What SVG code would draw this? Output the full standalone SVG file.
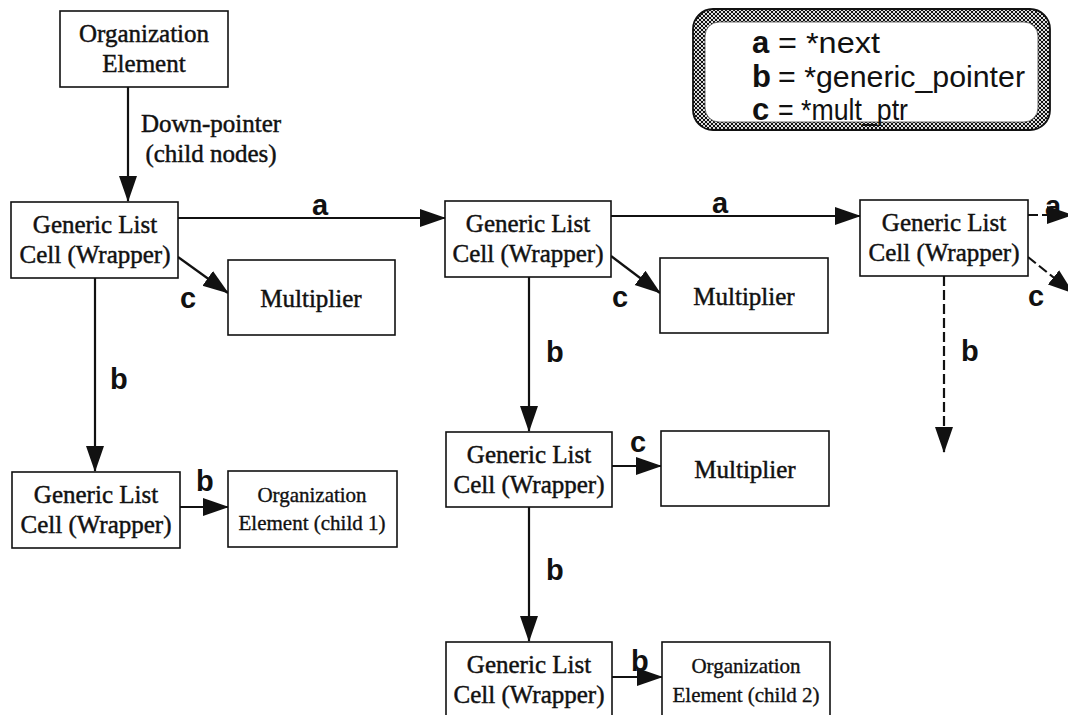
<svg xmlns="http://www.w3.org/2000/svg" width="1068" height="715" viewBox="0 0 1068 715">
  <style>
    .box { fill: #fff; stroke: #111; stroke-width: 1.6; }
    .nt { font-family: "Liberation Serif", "Times New Roman", serif; font-size: 25px; fill: #111; stroke: #111; stroke-width: 0.45; text-anchor: middle; }
    .ns { font-family: "Liberation Serif", "Times New Roman", serif; font-size: 21px; fill: #111; stroke: #111; stroke-width: 0.35; text-anchor: middle; }
    .lbl { font-family: "Liberation Sans", Arial, sans-serif; font-size: 29px; font-weight: bold; fill: #111; }
    .key { font-family: "Liberation Sans", Arial, sans-serif; font-size: 30px; fill: #111; }
    .keyb { font-family: "Liberation Sans", Arial, sans-serif; font-size: 31px; font-weight: bold; fill: #111; }
    .ln { stroke: #111; stroke-width: 2.2; fill: none; marker-end: url(#arrow); }
    .dash { stroke-dasharray: 10 4; }
  </style>
  <defs>
    <marker id="arrow" markerUnits="userSpaceOnUse" markerWidth="26" markerHeight="20" viewBox="0 0 26 20" refX="25" refY="10" orient="auto">
      <path d="M0,1 L26,10 L0,19 z" fill="#111"/>
    </marker>
    <pattern id="hatch" width="4" height="4" patternUnits="userSpaceOnUse">
      <rect width="4" height="4" fill="#ddd"/>
      <path d="M0,0 L4,4 M4,0 L0,4" stroke="#111" stroke-width="1"/>
    </pattern>
  </defs>

  <!-- key panel -->
  <g id="legend">
    <rect x="693" y="9" width="357" height="121" rx="20" fill="url(#hatch)" stroke="#111" stroke-width="1.8"/>
    <rect x="705" y="22" width="333" height="100" rx="14" fill="#fff" stroke="#444" stroke-width="0.8"/>
    <text class="keyb" x="752" y="53">a</text>
    <text class="key" x="778" y="53" textLength="102" lengthAdjust="spacingAndGlyphs">= *next</text>
    <text class="keyb" x="752" y="87">b</text>
    <text class="key" x="778" y="87" textLength="247" lengthAdjust="spacingAndGlyphs">= *generic_pointer</text>
    <text class="keyb" x="752" y="120">c</text>
    <text class="key" x="778" y="120" textLength="130" lengthAdjust="spacingAndGlyphs">= *mult_ptr</text>
  </g>

  <!-- connectors -->
  <g id="connectors">
    <line class="ln" x1="128" y1="87" x2="128" y2="201"/>
    <line class="ln" x1="178" y1="218" x2="445" y2="218"/>
    <line class="ln" x1="611" y1="216" x2="860" y2="216"/>
    <line class="ln dash" x1="1028" y1="215" x2="1072" y2="215"/>
    <line class="ln" x1="178" y1="257" x2="228" y2="293"/>
    <line class="ln" x1="611" y1="256" x2="660" y2="293"/>
    <line class="ln dash" x1="1028" y1="257" x2="1073" y2="293"/>
    <line class="ln" x1="95" y1="278" x2="95" y2="471"/>
    <line class="ln" x1="529" y1="277" x2="529" y2="431"/>
    <line class="ln" x1="529" y1="507" x2="529" y2="641"/>
    <line class="ln dash" x1="944" y1="276" x2="944" y2="452"/>
    <line class="ln" x1="180" y1="507" x2="228" y2="507"/>
    <line class="ln" x1="612" y1="466" x2="661" y2="466"/>
    <line class="ln" x1="612" y1="677" x2="662" y2="677"/>

    <text class="nt" x="211" y="132">Down-pointer</text>
    <text class="nt" x="211" y="162">(child nodes)</text>
    <text class="lbl" x="312" y="215">a</text>
    <text class="lbl" x="712" y="213">a</text>
    <text class="lbl" x="1045" y="216">a</text>
    <text class="lbl" x="180" y="308">c</text>
    <text class="lbl" x="612" y="307">c</text>
    <text class="lbl" x="1028" y="306">c</text>
    <text class="lbl" x="630" y="452">c</text>
    <text class="lbl" x="110" y="389">b</text>
    <text class="lbl" x="546" y="362">b</text>
    <text class="lbl" x="546" y="580">b</text>
    <text class="lbl" x="961" y="361">b</text>
    <text class="lbl" x="196" y="491">b</text>
    <text class="lbl" x="631" y="671">b</text>
  </g>

  <g id="org-root">
    <rect class="box" x="60" y="11" width="168" height="76"/>
    <text class="nt" x="144" y="42">Organization</text>
    <text class="nt" x="144" y="72">Element</text>
  </g>

  <g id="cell-1">
    <rect class="box" x="11" y="202" width="167" height="76"/>
    <text class="nt" x="95" y="233">Generic List</text>
    <text class="nt" x="95" y="263">Cell (Wrapper)</text>
  </g>

  <g id="cell-2">
    <rect class="box" x="445" y="201" width="166" height="76"/>
    <text class="nt" x="528" y="232">Generic List</text>
    <text class="nt" x="528" y="262">Cell (Wrapper)</text>
  </g>

  <g id="cell-3">
    <rect class="box" x="860" y="200" width="168" height="76"/>
    <text class="nt" x="944" y="231">Generic List</text>
    <text class="nt" x="944" y="261">Cell (Wrapper)</text>
  </g>

  <g id="multiplier-1">
    <rect class="box" x="228" y="260" width="167" height="75"/>
    <text class="nt" x="311" y="307">Multiplier</text>
  </g>

  <g id="multiplier-2">
    <rect class="box" x="660" y="258" width="168" height="75"/>
    <text class="nt" x="744" y="305">Multiplier</text>
  </g>

  <g id="cell-1-child">
    <rect class="box" x="12" y="472" width="168" height="76"/>
    <text class="nt" x="96" y="503">Generic List</text>
    <text class="nt" x="96" y="533">Cell (Wrapper)</text>
  </g>

  <g id="org-child-1">
    <rect class="box" x="228" y="471" width="169" height="76"/>
    <text class="ns" x="312" y="502">Organization</text>
    <text class="ns" x="312" y="530">Element (child 1)</text>
  </g>

  <g id="cell-2-child-a">
    <rect class="box" x="446" y="432" width="166" height="75"/>
    <text class="nt" x="529" y="463">Generic List</text>
    <text class="nt" x="529" y="493">Cell (Wrapper)</text>
  </g>

  <g id="multiplier-3">
    <rect class="box" x="661" y="431" width="168" height="75"/>
    <text class="nt" x="745" y="478">Multiplier</text>
  </g>

  <g id="cell-2-child-b">
    <rect class="box" x="446" y="642" width="166" height="80"/>
    <text class="nt" x="529" y="673">Generic List</text>
    <text class="nt" x="529" y="703">Cell (Wrapper)</text>
  </g>

  <g id="org-child-2">
    <rect class="box" x="662" y="642" width="168" height="80"/>
    <text class="ns" x="746" y="673">Organization</text>
    <text class="ns" x="746" y="702">Element (child 2)</text>
  </g>
</svg>
